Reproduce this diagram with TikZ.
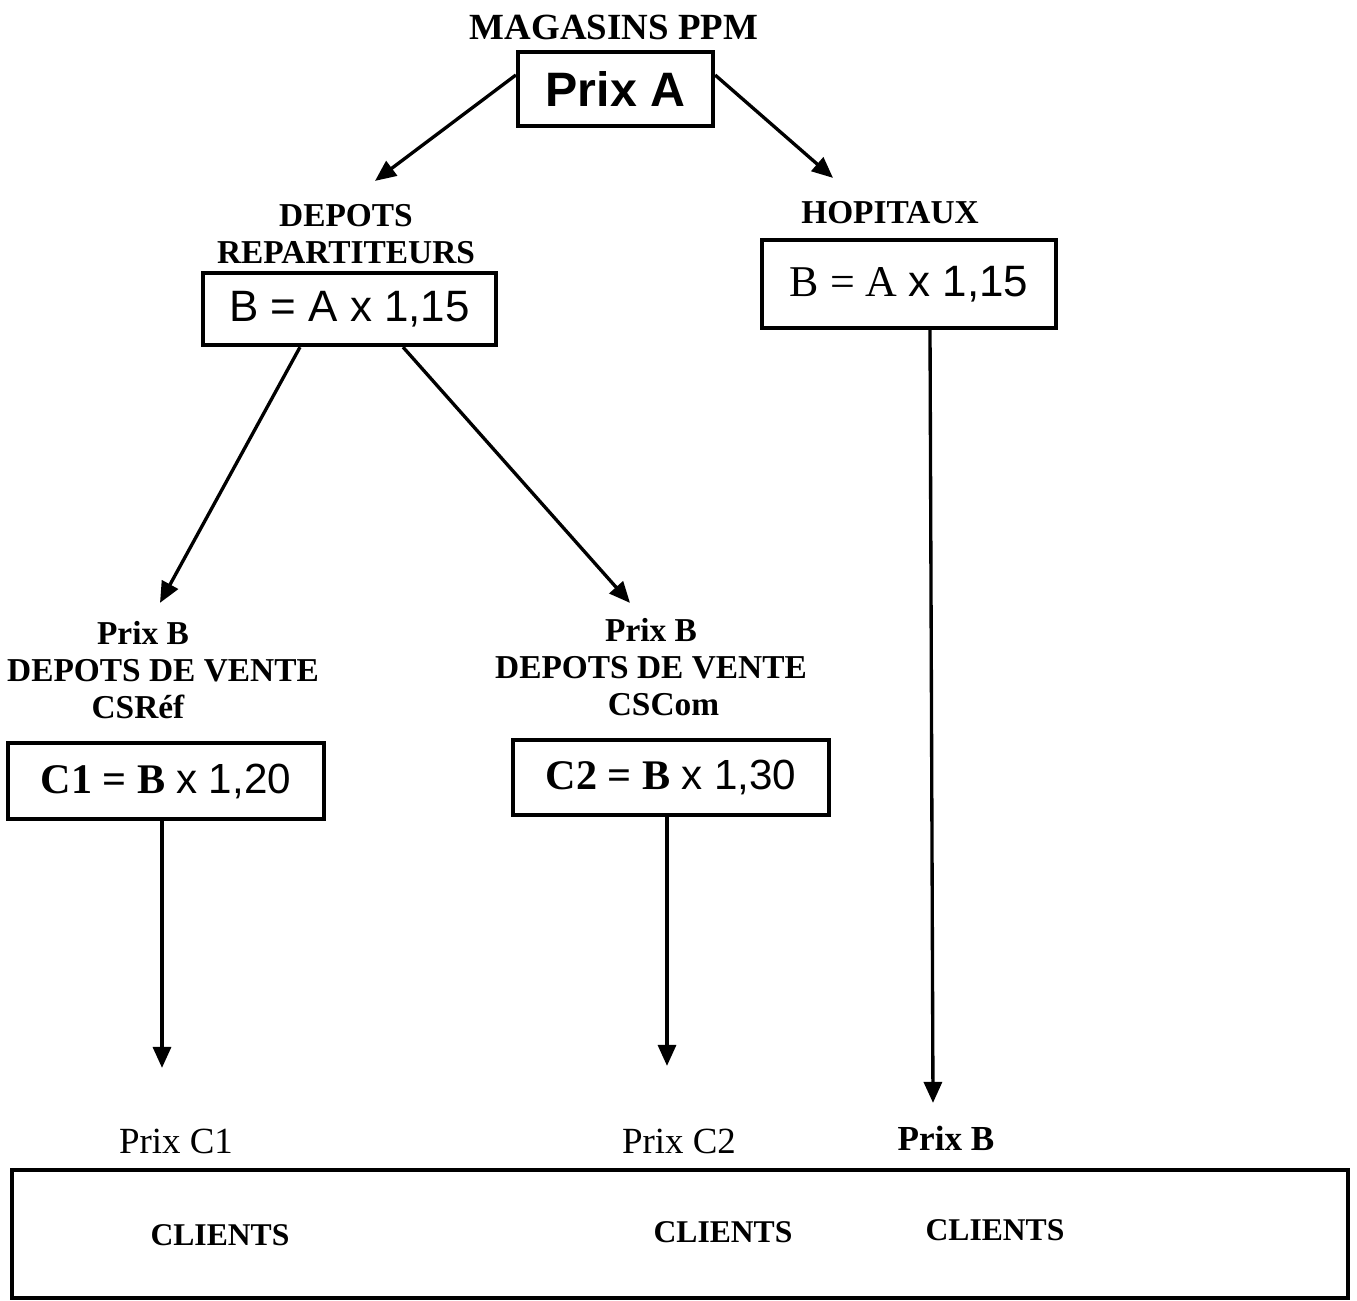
\documentclass[tikz,border=0pt]{standalone}
\usepackage{fontspec}
\setmainfont{Liberation Serif}
\newfontfamily\arialfont{Liberation Sans}
\usepackage{tikz}
\usetikzlibrary{arrows.meta,calc}

\begin{document}
\begin{tikzpicture}[
  x=0.2mm, y=-0.2mm,
  lbl/.style={font=\fontsize{19}{21.5}\selectfont\bfseries, align=center, inner sep=0pt},
  prix/.style={font=\fontsize{21}{24}\selectfont, inner sep=0pt},
  box/.style={draw, line width=2.4pt, inner sep=0pt},
  formula/.style={box, font=\fontsize{25}{28}\selectfont},
  flow/.style={-{Triangle[length=4.2mm, width=3.6mm]}, line width=1.9pt}
]
\useasboundingbox (0,0) rectangle (1357,1300);

% price chain, top
\node[lbl, font=\fontsize{21}{24}\selectfont\bfseries] (title) at (614,27) {MAGASINS PPM};
\node[box, minimum width=39mm, minimum height=14.8mm,
      font=\fontsize{27.5}{30}\selectfont\arialfont\bfseries] (prixA) at (615.5,89) {Prix A};

\node[lbl] (repLbl) at (346,234) {DEPOTS\\REPARTITEURS};
\node[formula, minimum width=58.6mm, minimum height=14.4mm] (repBox) at (349.5,309)
  {\arialfont B = A x 1,15};

\node[lbl] (hopLbl) at (890,213) {HOPITAUX};
\node[formula, minimum width=58.8mm, minimum height=17.6mm] (hopBox) at (909,284)
  {B = A {\arialfont x 1,15}};

% depots de vente
\node[lbl, font=\fontsize{19}{21}\selectfont\bfseries] (refLbl) at (163,670)
  {Prix B\hspace*{8mm}\\DEPOTS DE VENTE\\CSRéf\hspace*{10mm}};
\node[formula, minimum width=63.2mm, minimum height=15.2mm,
      font=\fontsize{24}{28}\selectfont] (c1Box) at (166,781)
  {\textbf{C1 = B} {\arialfont x 1,20}};

\node[lbl, font=\fontsize{19}{21}\selectfont\bfseries] (comLbl) at (651,667)
  {Prix B\\DEPOTS DE VENTE\\\hspace*{5mm}CSCom};
\node[formula, minimum width=63.2mm, minimum height=15mm,
      font=\fontsize{24}{28}\selectfont] (c2Box) at (671,777.5)
  {\textbf{C2 = B} {\arialfont x 1,30}};

% clients
\node[box, minimum width=267.2mm, minimum height=25.6mm] (clients) at (680,1234) {};
\node[prix] (prixC1) at (176,1141) {Prix C1};
\node[prix] (prixC2) at (679,1141) {Prix C2};
\node[prix, font=\fontsize{20}{24}\selectfont\bfseries] (prixBb) at (946,1138) {Prix B};
\node[lbl, font=\fontsize{18}{22}\selectfont\bfseries] (cli1) at (220,1235) {CLIENTS};
\node[lbl, font=\fontsize{18}{22}\selectfont\bfseries] (cli2) at (723,1232) {CLIENTS};
\node[lbl, font=\fontsize{18}{22}\selectfont\bfseries] (cli3) at (995,1230) {CLIENTS};

\draw[flow] ($(prixA.west)+(0,-14)$) -- ($(repBox.north)+(25.5,-90)$);
\draw[flow] ($(prixA.east)+(0,-14)$) -- ($(hopBox.north)+(-76,-60)$);
\draw[flow] ($(repBox.south)+(-49.5,0)$) -- ($(c1Box.north)+(-6,-138)$);
\draw[flow] ($(repBox.south)+(53.5,0)$) -- ($(c2Box.north)+(-41,-135)$);
\draw[flow] ($(c1Box.south)+(-4,0)$) -- ($(c1Box.south |- clients.north)+(-4,-100)$);
\draw[flow] ($(c2Box.south)+(-4,0)$) -- ($(c2Box.south |- clients.north)+(-4,-102)$);
\draw[flow] ($(hopBox.south)+(21,0)$) -- ($(hopBox.south |- clients.north)+(24,-65)$);
\end{tikzpicture}
\end{document}
